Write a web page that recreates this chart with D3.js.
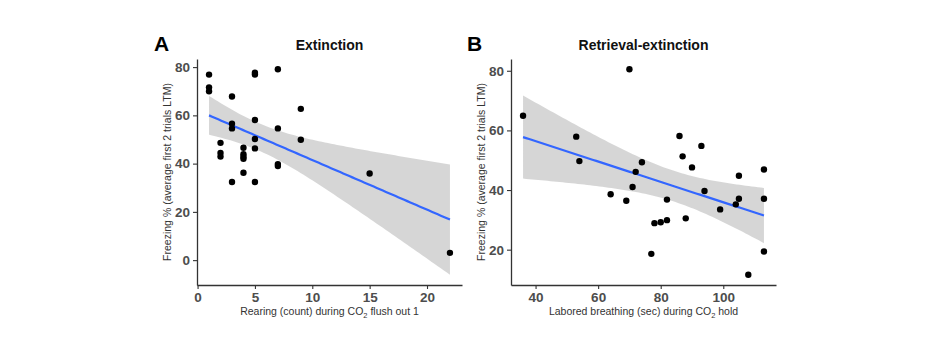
<!DOCTYPE html>
<html>
<head>
<meta charset="utf-8">
<script src="https://cdn.jsdelivr.net/npm/d3@7"></script>
<style>
  body { margin: 0; background: #fff; }
  svg text { font-family: "Liberation Sans", Arial, sans-serif; }
</style>
</head>
<body>
<div id="chart"></div>
<script>
// Panel A: rearing count vs freezing
const rearing = [1, 1, 1, 2, 2, 2, 3, 3, 3, 3, 4, 4, 4, 4, 4, 5, 5, 5, 5, 5, 5, 7, 7, 7, 7, 9, 9, 15, 22];
const freezingA = [76.9, 71.6, 70.0, 48.6, 44.4, 42.9, 67.8, 56.5, 54.6, 32.4, 46.6, 43.9, 42.8, 42.0, 36.2,
    77.7, 76.9, 58.1, 50.2, 46.3, 32.4, 79.1, 54.6, 39.8, 39.0, 62.7, 49.9, 35.9, 3.0];
const xTicksA = [0, 5, 10, 15, 20];
const yTicksA = [0, 20, 40, 60, 80];

// Panel B: labored breathing vs freezing
const breathing = [36, 53, 54, 64, 69, 70, 71, 72, 74, 77, 78, 80, 82, 82, 86, 87, 88, 90, 93, 94, 99, 104, 105, 105, 108, 113, 113, 113];
const freezingB = [64.9, 57.9, 49.7, 38.6, 36.4, 80.5, 41.0, 46.1, 49.3, 18.6, 28.9, 29.2, 29.9, 36.8, 58.1, 51.3,
    30.5, 47.6, 54.8, 39.7, 33.5, 35.2, 44.8, 37.1, 11.6, 46.9, 37.1, 19.4];
const xTicksB = [40, 60, 80, 100];
const yTicksB = [20, 40, 60, 80];

const width = 930;
const height = 350;

const svg = d3.select("#chart")
    .append("svg")
    .attr("width", width)
    .attr("height", height);

// inverse t approximation (Cornish-Fisher), 97.5% quantile
const tq = (df) => {
    const z = 1.959964;
    return z + (z ** 3 + z) / (4 * df) + (5 * z ** 5 + 16 * z ** 3 + 3 * z) / (96 * df * df);
};

// linear model + 95% confidence band, like geom_smooth(method = "lm")
const fitLm = (xs, ys) => {
    const n = xs.length;
    const mx = d3.mean(xs), my = d3.mean(ys);
    const sxx = d3.sum(xs, x => (x - mx) ** 2);
    const sxy = d3.sum(xs, (x, i) => (x - mx) * (ys[i] - my));
    const b = sxy / sxx, a = my - b * mx;
    const rss = d3.sum(xs, (x, i) => (ys[i] - a - b * x) ** 2);
    const s = Math.sqrt(rss / (n - 2));
    const t = tq(n - 2);
    const [x0, x1] = d3.extent(xs);
    return d3.range(80).map(k => {
        const x = x0 + (x1 - x0) * k / 79;
        const fit = a + b * x;
        const se = s * Math.sqrt(1 / n + (x - mx) ** 2 / sxx);
        return {x, fit, lo: fit - t * se, hi: fit + t * se};
    });
};

const expand = ([lo, hi]) => [lo - (hi - lo) * 0.05, hi + (hi - lo) * 0.05];

const panel = (opts) => {
    const {xs, ys, left, right, top, bottom, xTicks, yTicks} = opts;
    const band = fitLm(xs, ys);
    const g = svg.append("g");

    const x = d3.scaleLinear()
        .domain(expand(d3.extent(xs)))
        .range([left, right]);

    const y = d3.scaleLinear()
        .domain(expand([Math.min(d3.min(ys), d3.min(band, d => d.lo)), Math.max(d3.max(ys), d3.max(band, d => d.hi))]))
        .range([bottom, top]);

    g.append("path")
        .datum(band)
        .attr("fill", "#999999")
        .attr("fill-opacity", 0.4)
        .attr("d", d3.area().x(d => x(d.x)).y0(d => y(d.lo)).y1(d => y(d.hi)));

    g.append("path")
        .datum(band)
        .attr("fill", "none")
        .attr("stroke", "#3366FF")
        .attr("stroke-width", 2.2)
        .attr("d", d3.line().x(d => x(d.x)).y(d => y(d.fit)));

    g.append("g")
        .selectAll("circle")
        .data(xs.map((v, i) => [v, ys[i]]))
        .enter()
        .append("circle")
        .attr("cx", d => x(d[0]))
        .attr("cy", d => y(d[1]))
        .attr("r", 3.2)
        .attr("fill", "#000");

    const xAxis = g.append("g")
        .attr("transform", `translate(0, ${bottom})`)
        .call(d3.axisBottom(x).tickValues(xTicks).tickSize(4).tickPadding(3).tickSizeOuter(0));

    const yAxis = g.append("g")
        .attr("transform", `translate(${left},0)`)
        .call(d3.axisLeft(y).tickValues(yTicks).tickSize(4).tickPadding(3).tickSizeOuter(0));

    [xAxis, yAxis].forEach(ax => {
        ax.select(".domain").attr("stroke", "#333").attr("stroke-width", 1.3);
        ax.selectAll(".tick line").attr("stroke", "#333").attr("stroke-width", 1.1);
        ax.selectAll(".tick text")
            .attr("fill", "#4D4D4D")
            .attr("font-size", 13.5)
            .attr("font-weight", "bold");
    });

    const cx = (left + right) / 2;
    g.append("text")
        .attr("x", cx)
        .attr("y", 50)
        .attr("text-anchor", "middle")
        .attr("font-size", 14)
        .attr("font-weight", "bold")
        .attr("fill", "#111")
        .text(opts.title);

    g.append("text")
        .attr("x", opts.letterX)
        .attr("y", 51)
        .attr("font-size", 21)
        .attr("font-weight", "bold")
        .attr("fill", "#000")
        .text(opts.letter);

    const xl = g.append("text")
        .attr("x", cx)
        .attr("y", 315)
        .attr("text-anchor", "middle")
        .attr("font-size", 10.5)
        .attr("fill", "#333");
    xl.append("tspan").text(opts.xLabel[0]);
    xl.append("tspan").attr("font-size", 7.5).attr("dy", 3).text("2");
    xl.append("tspan").attr("dy", -3).text(opts.xLabel[1]);

    g.append("text")
        .attr("transform", `translate(${opts.yLabelX}, ${(top + bottom) / 2}) rotate(-90)`)
        .attr("text-anchor", "middle")
        .attr("font-size", 10.5)
        .attr("fill", "#333")
        .text("Freezing % (average first 2 trials LTM)");
};

panel({
    xs: rearing, ys: freezingA,
    left: 197, right: 462, top: 59, bottom: 285,
    xTicks: xTicksA, yTicks: yTicksA,
    title: "Extinction", letter: "A", letterX: 154, yLabelX: 171,
    xLabel: ["Rearing (count) during CO", " flush out 1"]
});

panel({
    xs: breathing, ys: freezingB,
    left: 511, right: 776, top: 59, bottom: 285,
    xTicks: xTicksB, yTicks: yTicksB,
    title: "Retrieval-extinction", letter: "B", letterX: 467, yLabelX: 485,
    xLabel: ["Labored breathing (sec) during CO", " hold"]
});
</script>
</body>
</html>
